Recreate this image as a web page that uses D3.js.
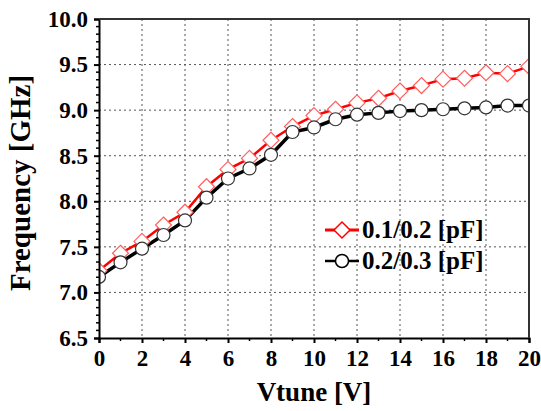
<!DOCTYPE html>
<html>
<head>
<meta charset="utf-8">
<script src="https://cdn.jsdelivr.net/npm/d3@7"></script>
<style>
  body { margin: 0; background: #fff; }
  text { font-family: "Liberation Serif", "Times New Roman", serif; font-weight: bold; }
</style>
</head>
<body>
<div id="chart"></div>
<script>
// Data
const vtune = [0, 1, 2, 3, 4, 5, 6, 7, 8, 9, 10, 11, 12, 13, 14, 15, 16, 17, 18, 19, 20];
const freqA = [7.24, 7.43, 7.56, 7.74, 7.88, 8.16, 8.35, 8.47, 8.67, 8.82, 8.94, 9.01, 9.08, 9.13, 9.21, 9.27, 9.34, 9.35, 9.41, 9.40, 9.48]; // 0.1/0.2 [pF]
const freqB = [7.17, 7.33, 7.48, 7.63, 7.79, 8.04, 8.25, 8.36, 8.51, 8.76, 8.81, 8.90, 8.95, 8.97, 8.99, 9.00, 9.01, 9.02, 9.03, 9.05, 9.05]; // 0.2/0.3 [pF]
const seriesNames = ["0.1/0.2 [pF]", "0.2/0.3 [pF]"];
const xTicks = [0, 2, 4, 6, 8, 10, 12, 14, 16, 18, 20];
const yTicks = [6.5, 7.0, 7.5, 8.0, 8.5, 9.0, 9.5, 10.0];

const W = 541, H = 411;
const margin = {top: 19, right: 12, bottom: 73, left: 99};
const width = W - margin.left - margin.right,
      height = H - margin.top - margin.bottom;

const svg = d3.select("#chart")
  .append("svg")
  .attr("width", W)
  .attr("height", H);

// markers are cut at the frame like in the original
svg.append("defs").append("clipPath")
  .attr("id", "plotclip")
  .append("rect")
  .attr("width", width).attr("height", height);

const g = svg.append("g")
  .attr("transform", `translate(${margin.left},${margin.top})`);

const x = d3.scaleLinear().domain([0, 20]).range([0, width]);
const y = d3.scaleLinear().domain([6.5, 10]).range([height, 0]);

// dotted grid
g.append("g")
  .selectAll("line")
  .data(xTicks.slice(1, -1))
  .join("line")
  .attr("x1", d => x(d)).attr("x2", d => x(d))
  .attr("y1", 0).attr("y2", height)
  .attr("stroke", "#555").attr("stroke-width", 1)
  .attr("stroke-dasharray", "2,3");

g.append("g")
  .selectAll("line")
  .data(yTicks.slice(1, -1))
  .join("line")
  .attr("x1", 0).attr("x2", width)
  .attr("y1", d => y(d)).attr("y2", d => y(d))
  .attr("stroke", "#555").attr("stroke-width", 1)
  .attr("stroke-dasharray", "2,3");

// minor ticks
const xMinor = d3.range(1, 20, 2);
const yMinor = [];
for (let i = 0; i < yTicks.length - 1; i++) {
  for (let k = 1; k < 6; k++) yMinor.push(yTicks[i] + k * 0.5 / 6);
}

g.append("g")
  .selectAll("line")
  .data(xMinor)
  .join("line")
  .attr("x1", d => x(d)).attr("x2", d => x(d))
  .attr("y1", height).attr("y2", height + 3)
  .attr("stroke", "#000").attr("stroke-width", 1.5);

g.append("g")
  .selectAll("line")
  .data(yMinor)
  .join("line")
  .attr("x1", -3).attr("x2", 0)
  .attr("y1", d => y(d)).attr("y2", d => y(d))
  .attr("stroke", "#000").attr("stroke-width", 1.5);

// series
const plot = g.append("g").attr("clip-path", "url(#plotclip)");
const lineA = d3.line().x((d, i) => x(vtune[i])).y(d => y(d));

plot.append("path")
  .datum(freqA)
  .attr("d", lineA)
  .attr("fill", "none")
  .attr("stroke", "#ff0000")
  .attr("stroke-width", 2.5);

plot.append("path")
  .datum(freqB)
  .attr("d", lineA)
  .attr("fill", "none")
  .attr("stroke", "#000")
  .attr("stroke-width", 3.5);

const diamond = s => `M0,${-s}L${s},0L0,${s}L${-s},0Z`;

plot.append("g")
  .selectAll("path")
  .data(freqA)
  .join("path")
  .attr("transform", (d, i) => `translate(${x(vtune[i])},${y(d)})`)
  .attr("d", diamond(8))
  .attr("fill", "#fff")
  .attr("stroke", "#ff6060")
  .attr("stroke-width", 1.2);

plot.append("g")
  .selectAll("circle")
  .data(freqB)
  .join("circle")
  .attr("cx", (d, i) => x(vtune[i]))
  .attr("cy", d => y(d))
  .attr("r", 6.5)
  .attr("fill", "#fff")
  .attr("stroke", "#333")
  .attr("stroke-width", 1.2);

// x axis
const xAxis = g.append("g")
  .attr("transform", `translate(0,${height})`)
  .call(d3.axisBottom(x).tickValues(xTicks).tickSize(5).tickPadding(7));
xAxis.select(".domain").attr("stroke-width", 2);
xAxis.selectAll(".tick line").attr("stroke-width", 2);
xAxis.selectAll("text").attr("font-size", 23).attr("fill", "#000")
  .style("font-family", "Liberation Serif").style("font-weight", "bold");

// y axis
const yAxis = g.append("g")
  .call(d3.axisLeft(y).tickValues(yTicks).tickFormat(d3.format(".1f")).tickSize(5).tickPadding(6));
yAxis.select(".domain").attr("stroke-width", 2);
yAxis.selectAll(".tick line").attr("stroke-width", 2);
yAxis.selectAll("text").attr("font-size", 23).attr("fill", "#000")
  .style("font-family", "Liberation Serif").style("font-weight", "bold");

// top and right frame
g.append("path")
  .attr("d", `M0,0H${width}V${height}`)
  .attr("fill", "none")
  .attr("stroke", "#333")
  .attr("stroke-width", 2);

// legend
const legend = svg.append("g");
const legY = [230, 261];
const colors = ["#ff0000", "#000"];
seriesNames.forEach((name, i) => {
  legend.append("line")
    .attr("x1", 325).attr("x2", 359)
    .attr("y1", legY[i]).attr("y2", legY[i])
    .attr("stroke", colors[i])
    .attr("stroke-width", i === 0 ? 3 : 2.5);
  if (i === 0) {
    legend.append("path")
      .attr("transform", `translate(342,${legY[i]})`)
      .attr("d", diamond(8))
      .attr("fill", "#fff")
      .attr("stroke", "#ff0000")
      .attr("stroke-width", 1.5);
  } else {
    legend.append("circle")
      .attr("cx", 342).attr("cy", legY[i]).attr("r", 6.5)
      .attr("fill", "#fff")
      .attr("stroke", "#000")
      .attr("stroke-width", 1.5);
  }
  legend.append("text")
    .attr("x", 362)
    .attr("y", legY[i] + 8)
    .attr("font-size", 25)
    .text(name);
});

// axis titles
svg.append("text")
  .attr("x", margin.left + width / 2)
  .attr("y", 401)
  .attr("text-anchor", "middle")
  .attr("font-size", 27)
  .text("Vtune [V]");

svg.append("text")
  .attr("transform", `translate(30,183) rotate(-90)`)
  .attr("text-anchor", "middle")
  .attr("font-size", 29)
  .text("Frequency [GHz]");
</script>
</body>
</html>
